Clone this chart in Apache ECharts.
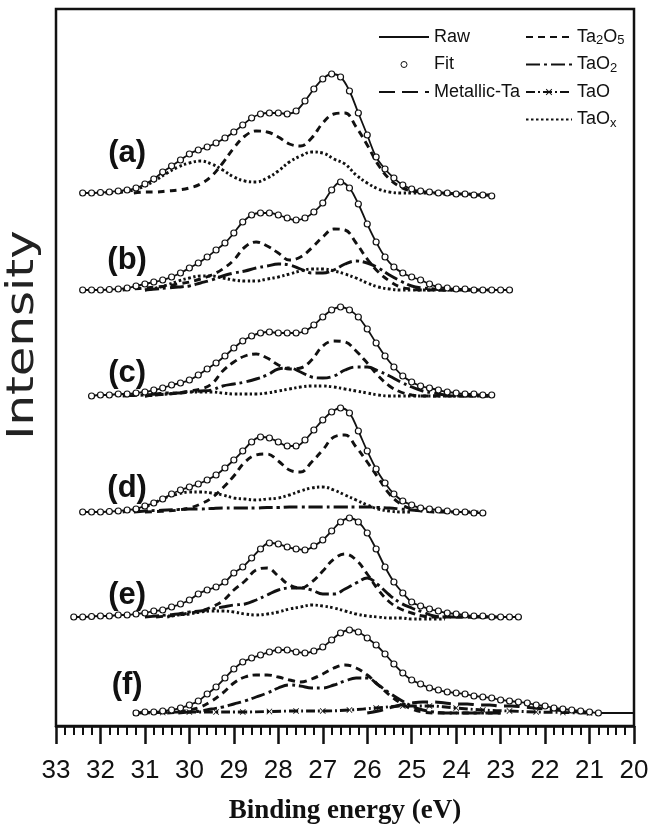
<!DOCTYPE html>
<html>
<head>
<meta charset="utf-8">
<title>Ta 4f XPS</title>
<script src="https://cdn.jsdelivr.net/npm/echarts@6.0.0/dist/echarts.min.js"></script>
<style>
  html, body { margin: 0; padding: 0; background: #fff; }
  #chart { width: 650px; height: 828px; }
</style>
</head>
<body>
<div id="chart"></div>
<script>
// Ta 4f spectra (a)-(f), stacked. Intensities are a.u. above each spectrum's own baseline.
// Raw / fit sampled every 0.2 eV from rawStart; fitted components every 0.25 eV (TaO every 0.6 eV)
// from the start energy given next to them in the spectra table.

var tags = ['(a)', '(b)', '(c)', '(d)', '(e)', '(f)'];
var baselines = [533, 436, 330, 214, 109, 13];
var rawStart = [32.4, 32.4, 32.2, 32.4, 32.6, 31.2];
var rawStop = [null, null, null, null, null, 20.0];   // (f): the solid line carries on past the last fit point
var tagEnergy = 31.4;
var tagHeight = [40, 30, 23, 24, 22, 28];

var rawA = [0,0,0.5,1,2,3,5,9,14,21, 27,33,39,43,46,50,55,61,68,75, 79,80,80,79,82,92,104,114,119,116,
            102,80,58,36,24,15,8,4,2,1, 0,0,-1,-1,-2,-2,-3];
var rawB = [0,0,0,0.5,1,2,4,6,8,10, 13,17,22,27,33,40,47,57,68,75, 77,77,75,72,70,72,78,87,100,108,
            102,86,66,48,33,23,17,13,10,6, 3,2,1,1,0,0,0,0,0];
var rawC = [0,1,1,2,2,3,4,6,8,11, 13,16,21,27,33,40,48,55,60,63, 64,63,63,63,65,71,79,86,89,86,
            79,67,53,40,29,20,14,10,8,6, 4,3,2,2,1,1];
var rawD = [0,0,0,0.5,1,2,3,6,9,13, 18,22,25,28,32,37,44,52,61,70, 75,74,70,66,66,72,82,92,100,104,
            99,81,61,43,29,18,11,7,4,3, 2,1,0,0,-1,-1];
var rawE = [0,0,0.5,1,1,2,2,3,4,6, 7,10,13,17,23,27,30,35,44,50, 59,68,74,73,70,68,67,71,77,86,
            95,99,95,84,68,50,35,24,15,11, 8,6,4,3,2,1,1,0,0,0, 0];
var rawF = [0,1,1,2,3,5,8,12,19,26, 35,44,51,55,58,61,63,63,61,60, 62,66,73,80,83,81,75,68,59,49,
            40,33,29,25,23,21,20,19,17,16, 15,13,12,11,10,8,7,5,4,3, 2,1,0];

var ta2o5A = [0,1,1,2,3,5,9,17,30,45,57,62,61,56,49,47,55,70,79,80,66,48,28,14,6,2,1,0,0,-1,-1,-2,-2];
var taoxA  = [0,0.5,1,3,7,13,20,26,30,32,29,23,16,12,11,15,22,31,37,41,40,34,29,18,10,4,1,0,0,0,0,-1,-1,-1,-2,-2];

var ta2o5B = [0,1,2,3,4,6,8,11,15,21,30,43,48,44,37,30,33,42,53,61,60,47,31,18,9,3,1,0,0,0,0,0,0,0,0];
var tao2B  = [0,1,2,3,4,7,10,14,17,19,22,24,26,25,21,17,17,20,26,29,27,22,15,9,4,2,1,0,0,0,0];
var taoxB  = [0,2,5,9,12,14,14,12,10,9,9,11,13,16,19,21,21,19,16,12,7,3,1,0,0,0,0,0,0];

var ta2o5C = [0,1,2,3,5,7,12,25,34,40,42,38,31,27,28,36,50,55,54,45,33,20,10,4,1,0,0,0,0,0,0,0];
var tao2C  = [0,0.5,1,2,3,3,4,5,6,10,12,14,17,21,27,28,24,19,18,20,26,29,29,25,20,14,9,5,3,1,0,0,0,0];
var taoxC  = [0,1,2,3,4,4,4,3,2,2,2,3,5,7,9,10,10,9,7,5,3,1,0,0,0,0,0,0,0];

var ta2o5D = [0,0.5,1,2,4,8,14,24,36,50,57,58,51,42,40,50,62,75,77,65,50,34,18,8,3,1,0,0,0,0,0];
var tao2D  = [0,1,1.5,2,2.5,3,3,3.5,4,4,4,4,4.5,4.5,5,5,5,5,5,5,5,5,4.5,4,3,2,1,0];
var taoxD  = [0,2,5,10,15,18,20,20,19,17,14,13,12,13,14,17,21,24,25,22,17,12,7,3,1,0,0];

var ta2o5E = [0,1,2,4,6,10,16,27,36,47,49,41,32,29,35,46,58,63,57,43,27,15,8,4,1,0,0,0,0,0,0,0];
var tao2E  = [0,1,2,3,5,6,8,10,12,13,17,22,27,29,29,27,23,23,28,34,39,32,22,14,9,5,1,0,0,0,0,0,0];
var taoxE  = [0,2,3,5,6,6,5,3,2,3,5,8,10,12,11,9,6,3,1,0,-1,-1,-2,-2,-2,-2];

var ta2o5F = [0,1,3,6,12,20,30,36,38,38,36,33,31,34,39,45,48,45,38,28,18,10,4,1,0,0,0,0,0,0,0];
var tao2F  = [0,1,2,4,6,9,12,16,20,25,28,27,25,25,28,32,35,35,28,20,13,7,3,1,0,0,0,0,0,0];
var metalF = [0,2,5,8,10,11,11,10,9,9,8,8,7,7,6,5,4,3,2,1,0.5,0];
var taoF   = [0,0.5,1,1,1,1.5,2,2,3,5,7,7,5,3,2,1,0.5,0];

// [component, start eV, step eV, values]
var spectra = [
  { raw: rawA, parts: [['Ta2O5', 31.25, 0.25, ta2o5A], ['TaOx', 32.0, 0.25, taoxA]] },
  { raw: rawB, parts: [['Ta2O5', 31.5, 0.25, ta2o5B], ['TaO2', 31.0, 0.25, tao2B], ['TaOx', 31.0, 0.25, taoxB]] },
  { raw: rawC, parts: [['Ta2O5', 31.0, 0.25, ta2o5C], ['TaO2', 31.5, 0.25, tao2C], ['TaOx', 31.0, 0.25, taoxC]] },
  { raw: rawD, parts: [['Ta2O5', 31.0, 0.25, ta2o5D], ['TaO2', 31.25, 0.25, tao2D], ['TaOx', 31.5, 0.25, taoxD]] },
  { raw: rawE, parts: [['Ta2O5', 30.75, 0.25, ta2o5E], ['TaO2', 31.0, 0.25, tao2E], ['TaOx', 30.5, 0.25, taoxE]] },
  { raw: rawF, parts: [['Ta2O5', 30.5, 0.25, ta2o5F], ['TaO2', 30.25, 0.25, tao2F],
                       ['Metallic-Ta', 26.0, 0.25, metalF], ['TaO', 31.2, 0.6, taoF]] }
];

var INK = '#111';
var SANS = '"Liberation Sans", Arial, Helvetica, sans-serif';
var NARROW = '"Liberation Sans Narrow", "Liberation Sans", Arial, sans-serif';
var SERIF = '"Liberation Serif", "Times New Roman", serif';
var xMark = 'path://M1,0L5,4L9,0L10,1L6,5L10,9L9,10L5,6L1,10L0,9L4,5L0,1Z';

var dash = {
  'Metallic-Ta': [16, 7],
  'Ta2O5': [7, 5],
  'TaO2': [14, 4, 3, 4],
  'TaO': [9, 3, 2, 3],
  'TaOx': [2.5, 2.5]
};

function pts(e0, step, vals, base) {
  return vals.map(function (v, i) {
    return [Math.round((e0 - i * step) * 100) / 100, base + v];
  });
}

var series = [];
spectra.forEach(function (s, k) {
  var base = baselines[k];
  var fit = pts(rawStart[k], 0.2, s.raw, base);
  var line = fit.slice();
  if (rawStop[k] != null) line.push([rawStop[k], base]);

  series.push({
    name: 'Raw', type: 'line', data: line, smooth: 0.4, symbol: 'none',
    lineStyle: { color: INK, width: 1.8 }, itemStyle: { color: INK }, z: 3
  });
  s.parts.forEach(function (p) {
    var isTaO = p[0] === 'TaO';
    series.push({
      name: p[0], type: 'line', data: pts(p[1], p[2], p[3], base), smooth: 0.4,
      symbol: isTaO ? xMark : 'none', symbolSize: 6, showSymbol: isTaO, showAllSymbol: true,
      lineStyle: { color: INK, width: 2.9, type: dash[p[0]] }, itemStyle: { color: INK }, z: 2
    });
  });
  series.push({
    name: 'Fit', type: 'scatter', data: fit, symbol: 'circle', symbolSize: 6,
    itemStyle: { color: '#fff', borderColor: INK, borderWidth: 1.2, opacity: 1 }, z: 4
  });
});

series.push({
  name: 'tags', type: 'scatter', symbolSize: 1, silent: true, z: 5,
  itemStyle: { color: 'rgba(0,0,0,0)', opacity: 1 },
  data: tags.map(function (t, k) { return { name: t, value: [tagEnergy, baselines[k] + tagHeight[k]] }; }),
  label: {
    show: true, position: 'inside', formatter: '{b}',
    fontFamily: SANS, fontSize: 31, fontWeight: 'bold', color: '#111'
  }
});

// chemical formulas with subscripts
function chem(name) {
  if (name === 'Ta2O5') return '{n|Ta}{s|2}{n|O}{s|5}';
  if (name === 'TaO2') return '{n|TaO}{s|2}';
  if (name === 'TaOx') return '{n|TaO}{s|x}';
  return '{n|' + name + '}';
}

var lineOnly = { opacity: 0 };
var legendText = { fontFamily: SANS, fontSize: 18, lineHeight: 20, color: '#111' };

var chart = echarts.init(document.getElementById('chart'), null, { renderer: 'canvas' });
chart.setOption({
  animation: false,
  backgroundColor: '#fff',
  textStyle: { fontFamily: SANS },
  grid: {
    left: 56, right: 16, top: 9, bottom: 102,
    show: true, borderColor: INK, borderWidth: 2.5, outerBoundsMode: 'none'
  },
  legend: [
    {
      orient: 'vertical', left: 378, top: 27, padding: 0, itemWidth: 50, itemHeight: 6, itemGap: 7.5,
      selectedMode: false, textStyle: legendText,
      data: [
        { name: 'Raw', itemStyle: lineOnly },
        { name: 'Fit', itemStyle: { color: '#fff', borderColor: INK, borderWidth: 1 } },
        { name: 'Metallic-Ta', itemStyle: lineOnly }
      ]
    },
    {
      orient: 'vertical', left: 525, top: 27, padding: 0, itemWidth: 46, itemHeight: 8, itemGap: 7.5,
      selectedMode: false, formatter: chem,
      textStyle: {
        fontFamily: SANS, fontSize: 18, lineHeight: 20, color: '#111',
        rich: {
          n: { fontFamily: SANS, fontSize: 18, lineHeight: 20, color: '#111' },
          s: { fontFamily: SANS, fontSize: 13, lineHeight: 2, verticalAlign: 'bottom', color: '#111' }
        }
      },
      data: [
        { name: 'Ta2O5', itemStyle: lineOnly },
        { name: 'TaO2', itemStyle: lineOnly },
        'TaO',
        { name: 'TaOx', itemStyle: lineOnly }
      ]
    }
  ],
  xAxis: {
    type: 'value', min: 20, max: 33, interval: 1, inverse: true,
    name: 'Binding energy (eV)', nameLocation: 'middle', nameGap: 72,
    nameTextStyle: { fontFamily: SERIF, fontWeight: 'bold', fontSize: 27, color: '#111' },
    axisLine: { show: true, lineStyle: { color: INK, width: 2.5 } },
    axisTick: { show: true, inside: false, length: 18, lineStyle: { color: INK, width: 2.5 } },
    minorTick: { show: true, splitNumber: 5, length: 9, lineStyle: { color: INK, width: 2 } },
    axisLabel: { margin: 32, fontSize: 26, color: '#111', fontFamily: NARROW, showMinLabel: true, showMaxLabel: true },
    splitLine: { show: false },
    minorSplitLine: { show: false }
  },
  yAxis: {
    type: 'value', min: 0, max: 717,
    axisLine: { show: false }, axisTick: { show: false },
    axisLabel: { show: false }, splitLine: { show: false }
  },
  graphic: [{
    type: 'text', x: 23, y: 335, rotation: Math.PI / 2, scaleX: 1.3, silent: true,
    style: {
      text: 'Intensity', fill: '#222', align: 'center', verticalAlign: 'middle',
      font: '37px "DejaVu Sans", sans-serif'
    }
  }],
  series: series
});
</script>
</body>
</html>
